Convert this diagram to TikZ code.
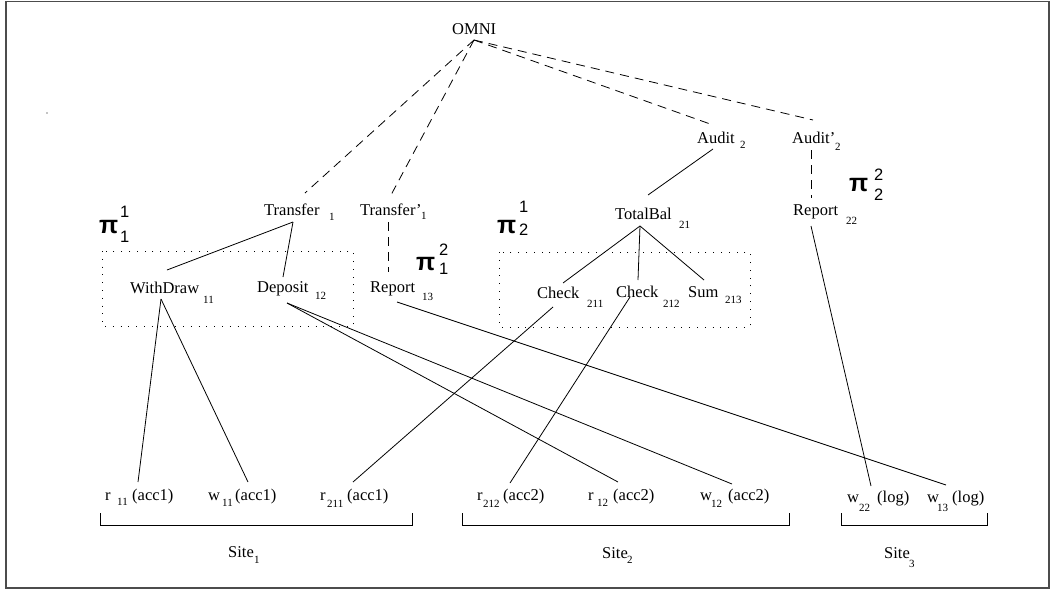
\documentclass[tikz,border=0pt]{standalone}
\usepackage{fontspec}
\setmainfont{Liberation Serif}
\newfontfamily\pisans{Liberation Sans}
\newcommand\subf{\fontsize{11}{11}\selectfont}
\newcommand\digf{\pisans\fontsize{16.5}{17}\selectfont}
\newcommand\pif{\pisans\bfseries\fontsize{25}{26}\selectfont}
% main text, offset of subscript from main left, drop, subscript
\newcommand\lb[4]{\rlap{#1}\hspace{#2pt}\raisebox{-#3pt}{\subf #4}}
% main, sub offset, sub, drop, rest offset, rest
\newcommand\bt[6]{\rlap{#1}\rlap{\hspace{#2pt}\raisebox{-#4pt}{\subf #3}}\hspace{#5pt}#6}
% pi: digit offset, sup raise, sup, sub drop, sub
\newcommand\pil[5]{\rlap{\pif π}\hspace{#1pt}\rlap{\raisebox{#2pt}{\digf #3}}\raisebox{-#4pt}{\digf #5}}
\tikzset{
  lbl/.style={anchor=base west, inner sep=0pt, font=\fontsize{16.5}{18}\selectfont},
  solidln/.style={line width=0.8pt},
  dashln/.style={line width=0.8pt, dash pattern=on 9pt off 6pt},
  dotbox/.style={line width=0.9pt, dash pattern=on 1pt off 6.8pt},
  bracket/.style={line width=0.9pt}
}
\begin{document}
\begin{tikzpicture}[x=1pt,y=-1pt]
\useasboundingbox (0,0) rectangle (1050,592);
\draw[line width=1.6pt, black!70] (6,1.5) rectangle (1049,588);
\fill (47,113) circle (0.6pt);

% labels
\node[lbl] (omni) at (452,34) {OMNI};
\node[lbl] (tr1) at (264,215) {\lb{Transfer}{65}{5}{1}};
\node[lbl] (trp1) at (360,215) {\lb{Transfer’}{61}{4}{1}};
\node[lbl] (wd11) at (130,293) {\lb{WithDraw}{73}{10}{11}};
\node[lbl] (dp12) at (257,292) {\lb{Deposit}{58}{7}{12}};
\node[lbl] (rp13) at (370,292) {\lb{Report}{52}{8}{13}};
\node[lbl] (tb21) at (615,219) {\lb{TotalBal}{64}{9}{21}};
\node[lbl] (ck211) at (537,298) {\lb{Check}{50}{9}{211}};
\node[lbl] (ck212) at (616,297) {\lb{Check}{47}{10}{212}};
\node[lbl] (sm213) at (688,297) {\lb{Sum}{37}{6}{213}};
\node[lbl] (au2) at (697,143) {\lb{Audit}{43}{5}{2}};
\node[lbl] (aup2) at (792,143) {\lb{Audit’}{43}{7}{2}};
\node[lbl] (rp22) at (793,215) {\lb{Report}{53}{9}{22}};

% pi labels
\node[lbl] (pi11) at (99,233) {\pil{21}{16}{1}{9}{1}};
\node[lbl] (pi12) at (416,270) {\pil{23}{15}{2}{4}{1}};
\node[lbl] (pi21) at (497,233) {\pil{22}{21}{1}{2}{2}};
\node[lbl] (pi22) at (849,191) {\pil{25}{11}{2}{9}{2}};

% bottom row
\node[lbl] (r11) at (105,500) {\bt{r}{12}{11}{5}{27}{(acc1)}};
\node[lbl] (w11) at (208,500) {\bt{w}{14}{11}{6}{27}{(acc1)}};
\node[lbl] (r211) at (320,500) {\bt{r}{7}{211}{7}{27}{(acc1)}};
\node[lbl] (r212) at (477,500) {\bt{r}{6}{212}{7}{26}{(acc2)}};
\node[lbl] (r12) at (588,500) {\bt{r}{9}{12}{6}{25}{(acc2)}};
\node[lbl] (w12) at (700,500) {\bt{w}{11}{12}{7}{28}{(acc2)}};
\node[lbl] (w22) at (847,502) {\bt{w}{12}{22}{9}{30}{(log)}};
\node[lbl] (w13) at (927,502) {\bt{w}{10}{13}{9}{25}{(log)}};

\node[lbl] (site1) at (228,557) {\lb{Site}{26}{6}{1}};
\node[lbl] (site2) at (602,558) {\lb{Site}{25}{5}{2}};
\node[lbl] (site3) at (884,558) {\lb{Site}{25}{9}{3}};

% connection points
\coordinate (omni-b) at (474,40);
\coordinate (tr1-t) at (305,193);
\coordinate (trp1-t) at (391,195);
\coordinate (au2-t) at (713,125);
\coordinate (aup2-t) at (813,120);
\coordinate (trp1-b) at (388,222);
\coordinate (rp13-t) at (388,272);
\coordinate (aup2-b) at (811,150);
\coordinate (rp22-t) at (811,198);
\coordinate (tr1-b) at (293,222);
\coordinate (wd11-t) at (167,270);
\coordinate (dp12-t) at (283,277);
\coordinate (wd11-b) at (161,299);
\coordinate (dp12-b) at (287,303);
\coordinate (rp13-b) at (397,302);
\coordinate (au2-b) at (713,149);
\coordinate (tb21-t) at (648,195);
\coordinate (tb21-b) at (640,226);
\coordinate (ck211-t) at (563,283);
\coordinate (ck212-t) at (638,280);
\coordinate (sm213-t) at (704,280);
\coordinate (ck211-b) at (553,307);
\coordinate (ck212-b) at (630,297);
\coordinate (rp22-b) at (811,226);
\coordinate (r11-t) at (138,482);
\coordinate (w11-t) at (248,482);
\coordinate (r211-t) at (353,482);
\coordinate (r212-t) at (510,483);
\coordinate (r12-t) at (618,482);
\coordinate (w12-t) at (732,484);
\coordinate (w22-t) at (871,486);
\coordinate (w13-t) at (946,485);

% dashed connectors
\draw[dashln] (omni-b) -- (tr1-t);
\draw[dashln] (omni-b) -- (trp1-t);
\draw[dashln] (omni-b) -- (au2-t);
\draw[dashln] (omni-b) -- (aup2-t);
\draw[dashln] (trp1-b) -- (rp13-t);
\draw[dashln] (aup2-b) -- (rp22-t);

% solid connectors
\draw[solidln] (tr1-b) -- (wd11-t);
\draw[solidln] (tr1-b) -- (dp12-t);
\draw[solidln] (wd11-b) -- (r11-t);
\draw[solidln] (wd11-b) -- (w11-t);
\draw[solidln] (dp12-b) -- (r12-t);
\draw[solidln] (dp12-b) -- (w12-t);
\draw[solidln] (rp13-b) -- (w13-t);
\draw[solidln] (au2-b) -- (tb21-t);
\draw[solidln] (tb21-b) -- (ck211-t);
\draw[solidln] (tb21-b) -- (ck212-t);
\draw[solidln] (tb21-b) -- (sm213-t);
\draw[solidln] (ck211-b) -- (r211-t);
\draw[solidln] (ck212-b) -- (r212-t);
\draw[solidln] (rp22-b) -- (w22-t);

% dotted boxes
\draw[dotbox] (102,251) rectangle (353,326);
\draw[dotbox] (499,252) rectangle (750,327);

% brackets
\draw[bracket] (100,513) -- (100,525) -- (412,525) -- (412,513);
\draw[bracket] (462,513) -- (462,525) -- (789,525) -- (789,513);
\draw[bracket] (841,513) -- (841,525) -- (987,525) -- (987,513);
\end{tikzpicture}
\end{document}
